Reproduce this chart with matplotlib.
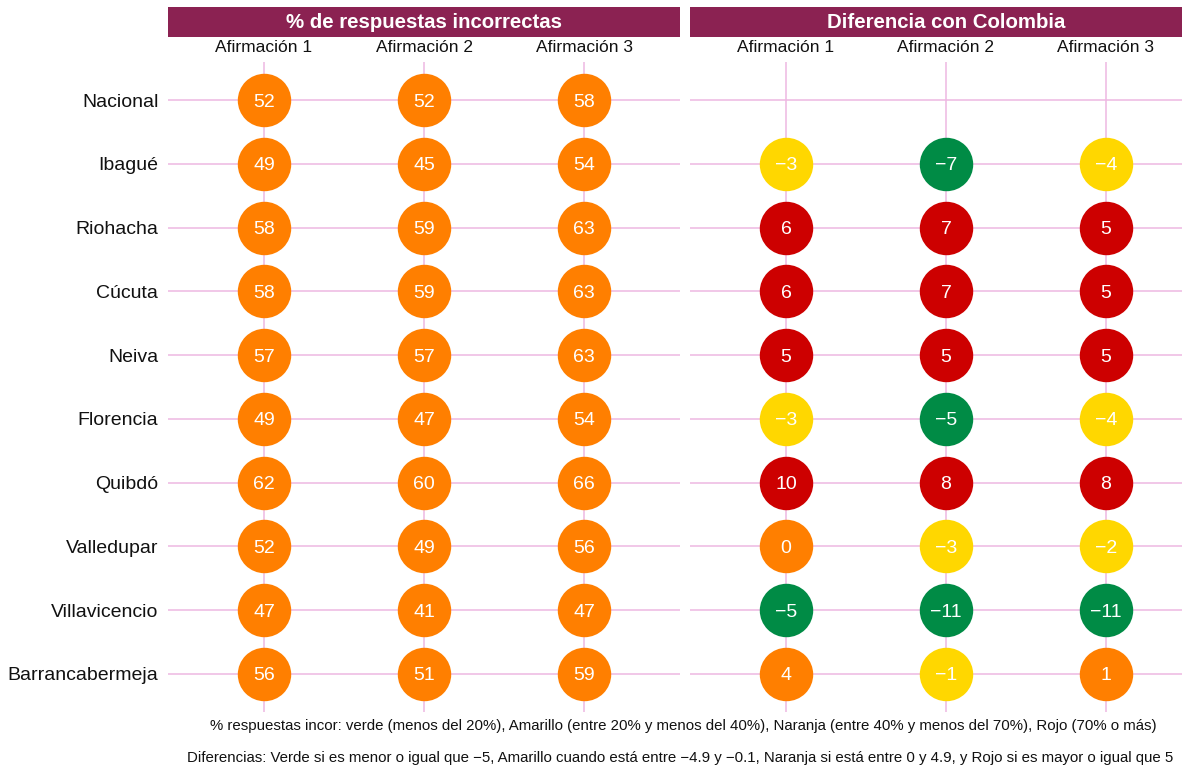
import matplotlib
matplotlib.use("Agg")
import matplotlib.pyplot as plt
import numpy as np

plt.rcParams['font.family'] = ['Liberation Sans', 'DejaVu Sans']

ciudades = ["Nacional", "Ibagué", "Riohacha", "Cúcuta", "Neiva", "Florencia",
            "Quibdó", "Valledupar", "Villavicencio", "Barrancabermeja"]
afirmaciones = ["Afirmación 1", "Afirmación 2", "Afirmación 3"]

af1 = [52, 49, 58, 58, 57, 49, 62, 52, 47, 56]
af2 = [52, 45, 59, 59, 57, 47, 60, 49, 41, 51]
af3 = [58, 54, 63, 63, 63, 54, 66, 56, 47, 59]

dif1 = [None, -3, 6, 6, 5, -3, 10, 0, -5, 4]
dif2 = [None, -7, 7, 7, 5, -5, 8, -3, -11, -1]
dif3 = [None, -4, 5, 5, 5, -4, 8, -2, -11, 1]

titulo_izq = "% de respuestas incorrectas"
titulo_der = "Diferencia con Colombia"
nota1 = "% respuestas incor: verde (menos del 20%), Amarillo (entre 20% y menos del 40%), Naranja (entre 40% y menos del 70%), Rojo (70% o más)"
nota2 = "Diferencias: Verde si es menor o igual que \u22125, Amarillo cuando está entre \u22124.9 y \u22120.1, Naranja si está entre 0 y 4.9, y Rojo si es mayor o igual que 5"

VERDE, AMARILLO, NARANJA, ROJO = "#008B45", "#FFD700", "#FF7F00", "#CD0000"
GRID = "#EEB8E2"
STRIP = "#8B2252"


def color_pct(v):
    if v < 20:
        return VERDE
    if v < 40:
        return AMARILLO
    if v < 70:
        return NARANJA
    return ROJO


def color_dif(v):
    if v <= -5:
        return VERDE
    if v < 0:
        return AMARILLO
    if v < 5:
        return NARANJA
    return ROJO


def fmt(v):
    s = f"{v:g}"
    return s.replace("-", "\u2212")


W, H = 1182, 768
fig = plt.figure(figsize=(W / 100, H / 100), dpi=100)


def px_axes(x0, y0, x1, y1):
    return fig.add_axes([x0 / W, 1 - y1 / H, (x1 - x0) / W, (y1 - y0) / H])


n = len(ciudades)
ypos = np.arange(n)
xpos = np.arange(1, 4)

paneles = [
    (168, 680, [af1, af2, af3], color_pct, titulo_izq, True),
    (690, 1202, [dif1, dif2, dif3], color_dif, titulo_der, False),
]

for x0, x1, series, cfun, titulo, show_y in paneles:
    ax = px_axes(x0, 62, x1, 712)
    ax.set_xlim(0.4, 3.6)
    ax.set_ylim(n - 1 + 0.6, -0.6)
    ax.set_xticks(xpos)
    ax.set_yticks(ypos)
    ax.set_xticklabels([])
    if show_y:
        ax.set_yticklabels(ciudades, fontsize=14, color="#111111")
    else:
        ax.set_yticklabels([])
    ax.tick_params(length=0, pad=7)
    for s in ax.spines.values():
        s.set_visible(False)
    ax.grid(True, color=GRID, linewidth=1.1)
    ax.set_axisbelow(True)
    for j, serie in enumerate(series):
        for i, v in enumerate(serie):
            if v is None:
                continue
            ax.scatter(xpos[j], ypos[i], s=1480, color=cfun(v), zorder=3,
                       linewidths=0)
            ax.text(xpos[j], ypos[i], fmt(v), color="white", fontsize=14,
                    ha="center", va="center_baseline", zorder=4)
    # column labels
    for j, lab in enumerate(afirmaciones):
        ax.text(xpos[j], 1 + 14 / 650, lab, transform=ax.get_xaxis_transform(),
                ha="center", va="center", fontsize=12.5, color="#111111")
    # strip
    sx = px_axes(x0, 7, x1, 37)
    sx.set_facecolor(STRIP)
    sx.set_xticks([])
    sx.set_yticks([])
    for s in sx.spines.values():
        s.set_visible(False)
    sx.text(0.5, 0.5, titulo, transform=sx.transAxes, ha="center", va="center",
            color="white", fontsize=14.7, fontweight="bold")

fig.text(683 / W, 1 - 726 / H, nota1, ha="center", va="center", fontsize=10.8,
         color="#111111")
fig.text(680 / W, 1 - 758 / H, nota2, ha="center", va="center", fontsize=10.8,
         color="#111111")

fig.savefig("out.png", dpi=100, facecolor="white")
